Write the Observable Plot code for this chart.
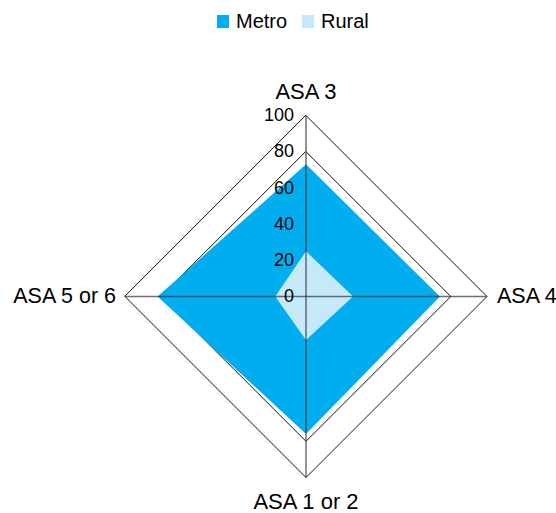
<!DOCTYPE html>
<html>
<head>
<meta charset="utf-8">
<script src="https://cdn.jsdelivr.net/npm/d3@7"></script>
<script src="https://cdn.jsdelivr.net/npm/@observablehq/plot@0.6"></script>
<style>
  body { margin: 0; background: #fff; font-family: "Liberation Sans", Arial, sans-serif; }
  #wrap { width: 556px; }
  #legend { position: relative; height: 40px; font-size: 20px; color: #000; }
  .sw { position: absolute; top: 15px; width: 12px; height: 13px; }
  .lt { position: absolute; top: 9px; line-height: 24px; }
</style>
</head>
<body>
<div id="wrap">
  <div id="legend">
    <span class="sw" style="left:217px;background:#00aeef"></span><span class="lt" style="left:236px">Metro</span>
    <span class="sw" style="left:302px;background:#c6e9fa"></span><span class="lt" style="left:321px">Rural</span>
  </div>
  <div id="chart"></div>
</div>
<script>
const categories = ["ASA 3", "ASA 4", "ASA 1 or 2", "ASA 5 or 6"];
const metro = [73, 74, 76, 82];
const rural = [25, 26, 24, 17];
const ticks = [0, 20, 40, 60, 80, 100];

// angles: top, right, bottom, left
const ang = categories.map((_, i) => Math.PI / 2 - i * Math.PI / 2);
const pt = (i, v) => ({x: Math.cos(ang[i]) * v, y: Math.sin(ang[i]) * v});

const metroPts = metro.map((v, i) => pt(i, v));
const ruralPts = rural.map((v, i) => pt(i, v));
const grid = ticks.filter(t => t > 0).flatMap(t => categories.map((_, i) => ({...pt(i, t), t})));
const spokes = categories.map((c, i) => { const p = pt(i, 100); return {x1: 0, y1: 0, x2: p.x, y2: p.y}; });
const labels = categories.map((c, i) => ({...pt(i, 100), c, i}));

const chart = Plot.plot({
  width: 556,
  height: 473,
  marginLeft: 124.5,
  marginRight: 69.5,
  marginTop: 75,
  marginBottom: 36,
  x: {domain: [-100, 100], axis: null},
  y: {domain: [-100, 100], axis: null},
  style: {fontFamily: "'Liberation Sans', Arial, sans-serif", color: "#000"},
  marks: [
    Plot.line(grid, {x: "x", y: "y", z: "t", curve: "linear-closed", stroke: "#111", strokeWidth: 1}),
    Plot.line(metroPts, {x: "x", y: "y", curve: "linear-closed", fill: "#00aeef", stroke: "none"}),
    Plot.line(ruralPts, {x: "x", y: "y", curve: "linear-closed", fill: "#c6e9fa", stroke: "none"}),
    Plot.link(spokes, {x1: "x1", y1: "y1", x2: "x2", y2: "y2", stroke: "#333", strokeOpacity: 0.7, strokeWidth: 1.5}),
    Plot.text(ticks, {x: 0, y: d => d, text: d => String(d), textAnchor: "end", dx: -12, fontSize: 18, fill: "#000"}),
    Plot.text(labels.filter(d => d.i === 0), {x: "x", y: "y", text: "c", dy: -24, fontSize: 22, fill: "#000"}),
    Plot.text(labels.filter(d => d.i === 1), {x: "x", y: "y", text: "c", dx: 10, textAnchor: "start", fontSize: 21.5, fill: "#000"}),
    Plot.text(labels.filter(d => d.i === 2), {x: "x", y: "y", text: "c", dy: 24, fontSize: 22, fill: "#000"}),
    Plot.text(labels.filter(d => d.i === 3), {x: "x", y: "y", text: "c", dx: -9, textAnchor: "end", fontSize: 21.5, fill: "#000"})
  ]
});
document.getElementById("chart").appendChild(chart);
</script>
</body>
</html>
